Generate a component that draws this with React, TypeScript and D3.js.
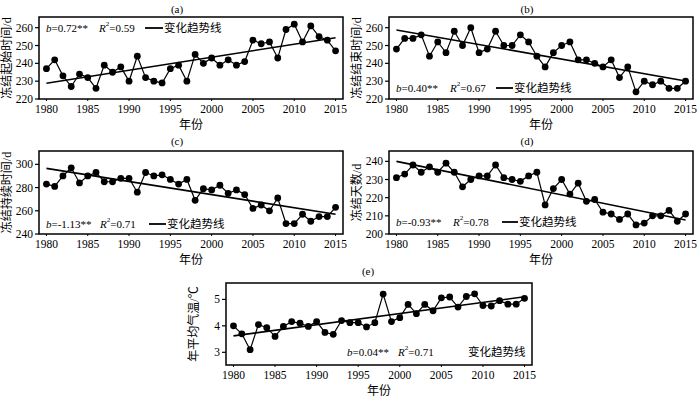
import React from "react";
import * as d3 from "d3";

const years = [
  1980, 1981, 1982, 1983, 1984, 1985, 1986, 1987, 1988, 1989, 1990, 1991,
  1992, 1993, 1994, 1995, 1996, 1997, 1998, 1999, 2000, 2001, 2002, 2003,
  2004, 2005, 2006, 2007, 2008, 2009, 2010, 2011, 2012, 2013, 2014, 2015,
];
const xTicks = [1980, 1985, 1990, 1995, 2000, 2005, 2010, 2015];

// (a) 冻结起始时间
const startDay = [
  237, 242, 233, 227, 234, 232, 226, 239, 235, 238, 230, 244, 232, 230, 229, 237,
  239, 230, 245, 240, 243, 239, 242, 239, 241, 253, 251, 252, 243, 259, 262, 252,
  261, 255, 253, 247,
];
// (b) 冻结结束时间
const endDay = [
  248, 254, 254, 256, 244, 252, 246, 258, 250, 260, 246, 248, 258, 250, 250, 256,
  252, 244, 238, 246, 250, 252, 242, 242, 240, 238, 242, 232, 238, 224, 230, 228,
  230, 226, 226, 230,
];
// (c) 冻结持续时间
const duration = [
  283, 281, 290, 297, 284, 290, 293, 285, 285, 288, 288, 276, 293, 290, 291, 287,
  283, 287, 269, 279, 278, 282, 275, 278, 274, 262, 265, 260, 271, 249, 249, 257,
  251, 255, 255, 263,
];
// (d) 冻结天数
const frozenDays = [
  231, 233, 238, 234, 237, 234, 239, 234, 226, 230, 232, 232, 238, 231, 230, 229,
  232, 234, 216, 225, 230, 222, 228, 218, 219, 212, 211, 208, 211, 205, 206, 210,
  210, 213, 207, 211,
];
// (e) 年平均气温
const meanTemp = [
  4.0, 3.7, 3.1, 4.05, 3.93, 3.6, 3.98, 4.16, 4.1, 3.98, 4.16, 3.75, 3.68, 4.2,
  4.12, 4.12, 3.96, 4.12, 5.2, 4.16, 4.31, 4.81, 4.46, 4.81, 4.57, 5.06, 5.09,
  4.71, 5.11, 5.21, 4.77, 4.75, 4.95, 4.82, 4.82, 5.04,
];

// trend line values at 1980 and 2015
const trendA = [228.8, 254.4];
const trendB = [258.7, 230.1];
const trendC = [296.5, 257];
const trendD = [240, 207.7];
const trendE = [3.62, 5.1];

const panels = [
  {
    id: "(a)", values: startDay, trend: trendA, yDomain: [220, 266], yTicks: [220, 230, 240, 250, 260],
    yLabel: "冻结起始时间/d", slope: "=0.72**", r2: "=0.59",
    box: { x0: 39, x1: 343, y0: 17, y1: 99 }, titleX: 177, titleY: 10,
    legend: { y: 28, bx: 46, rx: 99, l0: 145, l1: 163, line: true },
  },
  {
    id: "(b)", values: endDay, trend: trendB, yDomain: [220, 266], yTicks: [220, 230, 240, 250, 260],
    yLabel: "冻结结束时间/d", slope: "=0.40**", r2: "=0.67",
    box: { x0: 389, x1: 693, y0: 17, y1: 99 }, titleX: 527, titleY: 10,
    legend: { y: 88, bx: 396, rx: 450, l0: 496, l1: 513, line: true },
  },
  {
    id: "(c)", values: duration, trend: trendC, yDomain: [240, 311.5], yTicks: [240, 260, 280, 300],
    yLabel: "冻结持续时间/d", slope: "=-1.13**", r2: "=0.71",
    box: { x0: 39, x1: 343, y0: 151, y1: 234 }, titleX: 177, titleY: 142,
    legend: { y: 224, bx: 46, rx: 100, l0: 149, l1: 166, line: true },
  },
  {
    id: "(d)", values: frozenDays, trend: trendD, yDomain: [200, 245.7], yTicks: [200, 210, 220, 230, 240],
    yLabel: "冻结天数/d", slope: "=-0.93**", r2: "=0.78",
    box: { x0: 389, x1: 693, y0: 151, y1: 234 }, titleX: 527, titleY: 142,
    legend: { y: 222, bx: 396, rx: 453, l0: 502, l1: 518, line: true },
  },
  {
    id: "(e)", values: meanTemp, trend: trendE, yDomain: [2.52, 5.62], yTicks: [3, 4, 5],
    yLabel: "年平均气温/℃", slope: "=0.04**", r2: "=0.71",
    box: { x0: 226, x1: 532, y0: 283, y1: 365 }, titleX: 368, titleY: 272,
    legend: { y: 352, bx: 347, rx: 398, l0: 467, l1: 467, line: false },
  },
];

const numFont = "'Liberation Serif', 'Times New Roman', serif";
const cjkFont = "'Liberation Serif', 'Noto Sans CJK SC', serif";

function Panel({ p }) {
  const { box, legend } = p;
  const x = d3.scaleLinear().domain([1979.1, 2015.9]).range([box.x0, box.x1]);
  const y = d3.scaleLinear().domain(p.yDomain).range([box.y1, box.y0]);
  const line = d3
    .line<number>()
    .x((_, i) => x(years[i]))
    .y((d) => y(d));
  const cx = (box.x0 + box.x1) / 2;
  const cy = (box.y0 + box.y1) / 2;

  return (
    <g>
      <text x={p.titleX} y={p.titleY} textAnchor="middle" dominantBaseline="middle"
        fontFamily={numFont} fontSize={11}>{p.id}</text>

      <path d={line(p.values) || ""} fill="none" stroke="#000" strokeWidth={1.2} />
      {p.values.map((v, i) => (
        <circle key={i} cx={x(years[i])} cy={y(v)} r={3.4} fill="#000" />
      ))}
      <line x1={x(1980)} x2={x(2015)} y1={y(p.trend[0])} y2={y(p.trend[1])}
        stroke="#000" strokeWidth={1.6} />

      <rect x={box.x0} y={box.y0} width={box.x1 - box.x0} height={box.y1 - box.y0}
        fill="none" stroke="#000" strokeWidth={1.5} />

      {p.yTicks.map((t) => (
        <g key={t} transform={`translate(${box.x0},${y(t)})`}>
          <line x1={-4} x2={0} stroke="#000" strokeWidth={1.2} />
          <text x={-6} textAnchor="end" dominantBaseline="central"
            fontFamily={numFont} fontSize={11.5}>{t}</text>
        </g>
      ))}
      {xTicks.map((t) => (
        <g key={t} transform={`translate(${x(t)},${box.y1})`}>
          <line y1={0} y2={2} stroke="#000" strokeWidth={1} />
          <text y={10} textAnchor="middle" dominantBaseline="central"
            fontFamily={numFont} fontSize={11.5}>{t}</text>
        </g>
      ))}

      <text x={cx} y={box.y1 + 26} textAnchor="middle" dominantBaseline="central"
        fontFamily={cjkFont} fontSize={12}>年份</text>
      <text transform={`translate(${box.x0 - 32},${cy}) rotate(-90)`} textAnchor="middle"
        dominantBaseline="central" fontFamily={cjkFont} fontSize={12}>{p.yLabel}</text>

      <text x={legend.bx} y={legend.y} dominantBaseline="central" fontFamily={numFont} fontSize={11}>
        <tspan fontStyle="italic">b</tspan>{p.slope}
      </text>
      <text x={legend.rx} y={legend.y} dominantBaseline="central" fontFamily={numFont} fontSize={11}>
        <tspan fontStyle="italic">R</tspan>
        <tspan fontSize={7} dy={-4}>2</tspan>
        <tspan dy={4}>{p.r2}</tspan>
      </text>
      {legend.line && (
        <line x1={legend.l0} x2={legend.l1} y1={legend.y} y2={legend.y} stroke="#000" strokeWidth={1.8} />
      )}
      <text x={legend.l1 + 1} y={legend.y} dominantBaseline="central" fontFamily={cjkFont} fontSize={11.5}>
        变化趋势线
      </text>
    </g>
  );
}

export default function App() {
  return (
    <svg width={700} height={397} viewBox="0 0 700 397"
      style={{ position: "absolute", left: 0, top: 0, background: "#fff" }}>
      <rect width={700} height={397} fill="#fff" />
      {panels.map((p) => (
        <Panel key={p.id} p={p} />
      ))}
    </svg>
  );
}
